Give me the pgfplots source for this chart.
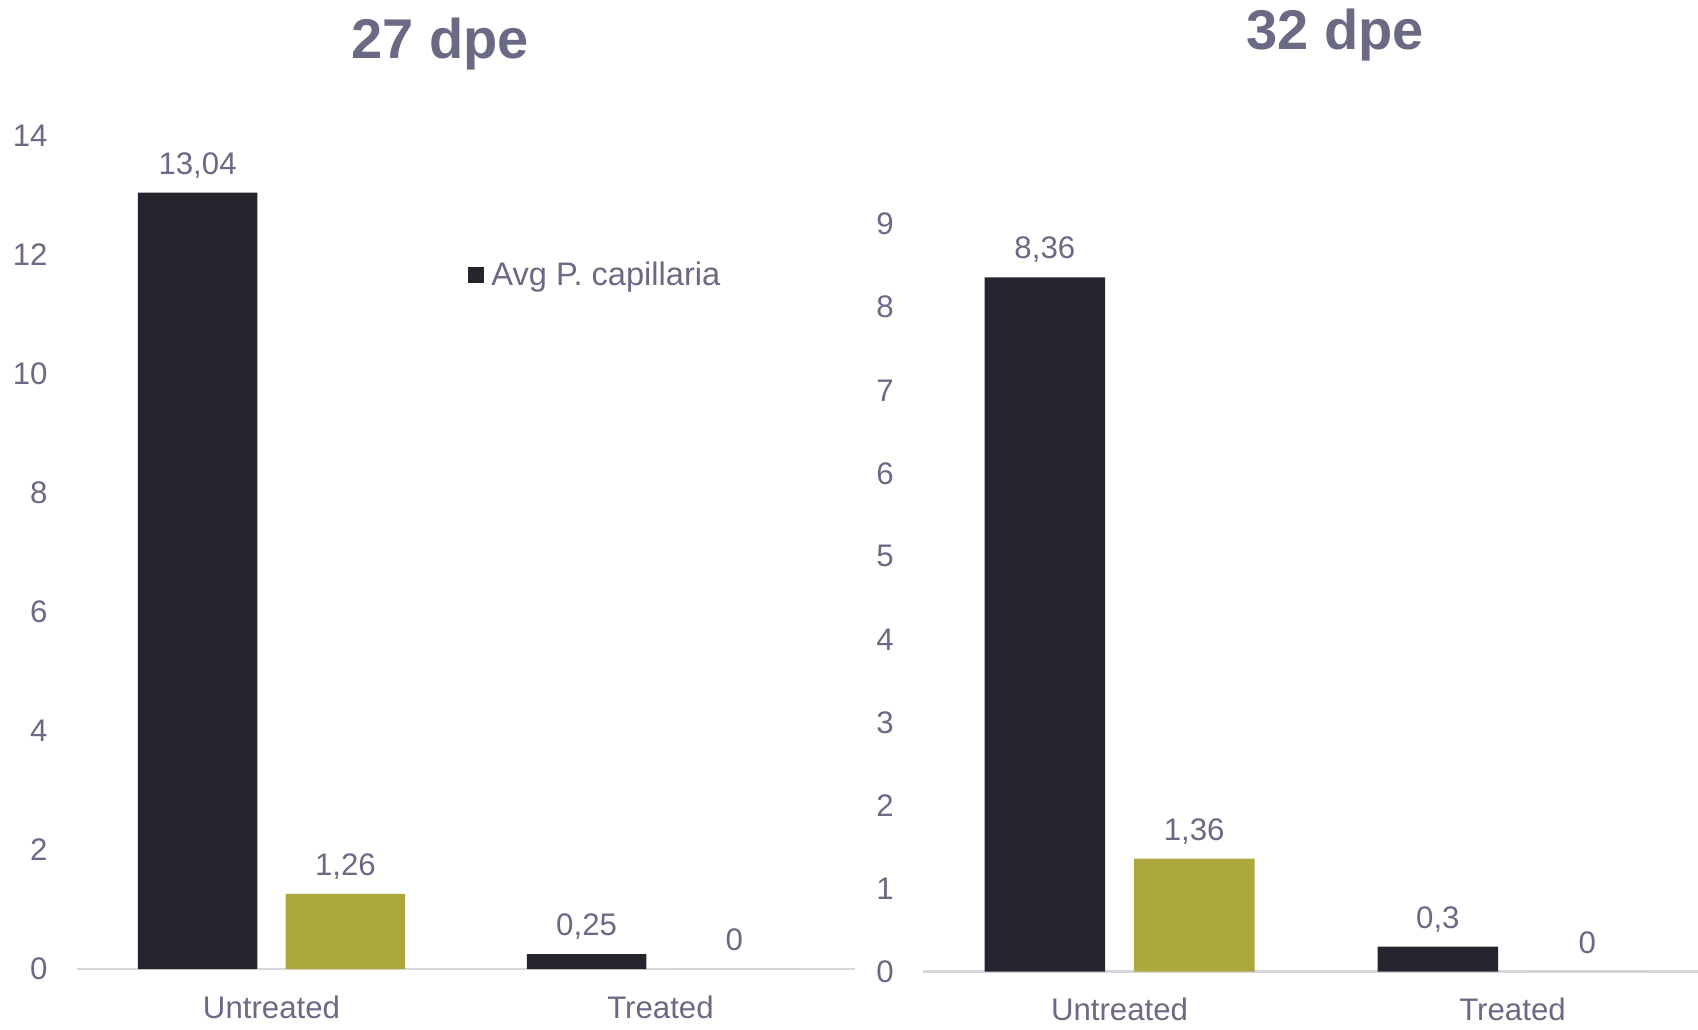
\documentclass[border=0pt]{standalone}
\usepackage{fontspec}
\setmainfont{Liberation Sans}
\usepackage{pgfplots}
\pgfplotsset{compat=1.18}
\definecolor{txt}{RGB}{106,106,132}
\definecolor{barA}{RGB}{37,37,46}
\definecolor{barB}{RGB}{172,168,61}
\definecolor{axg}{RGB}{214,214,220}
\newcommand{\bodyfont}{\fontsize{15.6}{18}\selectfont}
\pgfplotsset{mystyle/.style={
  scale only axis, ybar, bar width=0.307,
  xmin=-0.5, ymin=0,
  axis x line*=bottom, axis y line*=left,
  y axis line style={draw=none},
  x axis line style={draw=axg, line width=1.3pt, -},
  major tick length=0pt, tick style={draw=none},
  xtick={0,1}, xticklabels={Untreated,Treated},
  ticklabel style={font=\bodyfont, text=txt},
  xticklabel style={anchor=base, inner sep=0pt, text depth=0pt, yshift=-24.5pt},
  yticklabel style={anchor=east, inner sep=0pt, xshift=-14.5pt},
  /pgf/number format/assume math mode=true,
  /pgf/number format/use comma,
  nodes near coords,
  every node near coord/.append style={font=\bodyfont, text=txt, inner sep=0pt, text depth=0pt, yshift=9pt},
  every axis plot post/.append style={legend image code/.code={\fill[##1, draw=none] (0pt,-4pt) rectangle (8pt,4pt);}},
  legend style={draw=none, fill=none, inner sep=0pt, font=\fontsize{16.3}{19}\selectfont, text=txt},
}}
\begin{document}
\begin{tikzpicture}
\path[use as bounding box] (0,0) rectangle (849pt,-514.5pt);
\begin{axis}[mystyle,
  at={(38.5pt,-484.5pt)}, anchor=south west,
  width=389pt, height=416.8pt,
  xmax=1.5, ymax=14, ytick={0,2,...,14},
  legend style={at={(0.5026,0.832)}, anchor=west},
  /tikz/every odd column/.append style={column sep=1.5pt}]
\addplot[fill=barA, draw=none, bar shift=-0.19] coordinates {(0,13.04) (1,0.25)};
\addlegendentry{Avg P. capillaria}
\addplot[fill=barB, draw=none, bar shift=0.19] coordinates {(0,1.26) (1,0)};
\end{axis}
\begin{axis}[mystyle,
  at={(461.5pt,-485.75pt)}, anchor=south west,
  width=387.5pt, height=373.65pt,
  xmax=1.472, ymax=9, ytick={0,1,...,9}]
\addplot[fill=barA, draw=none, bar shift=-0.19] coordinates {(0,8.36) (1,0.3)};
\addplot[fill=barB, draw=none, bar shift=0.19] coordinates {(0,1.36) (1,0)};
\end{axis}
\node[anchor=base, text=txt, font=\bfseries\fontsize{28}{32}\selectfont] at (220pt,-29pt) {27 dpe};
\node[anchor=base, text=txt, font=\bfseries\fontsize{28}{32}\selectfont] at (667.5pt,-24.5pt) {32 dpe};
\end{tikzpicture}
\end{document}
